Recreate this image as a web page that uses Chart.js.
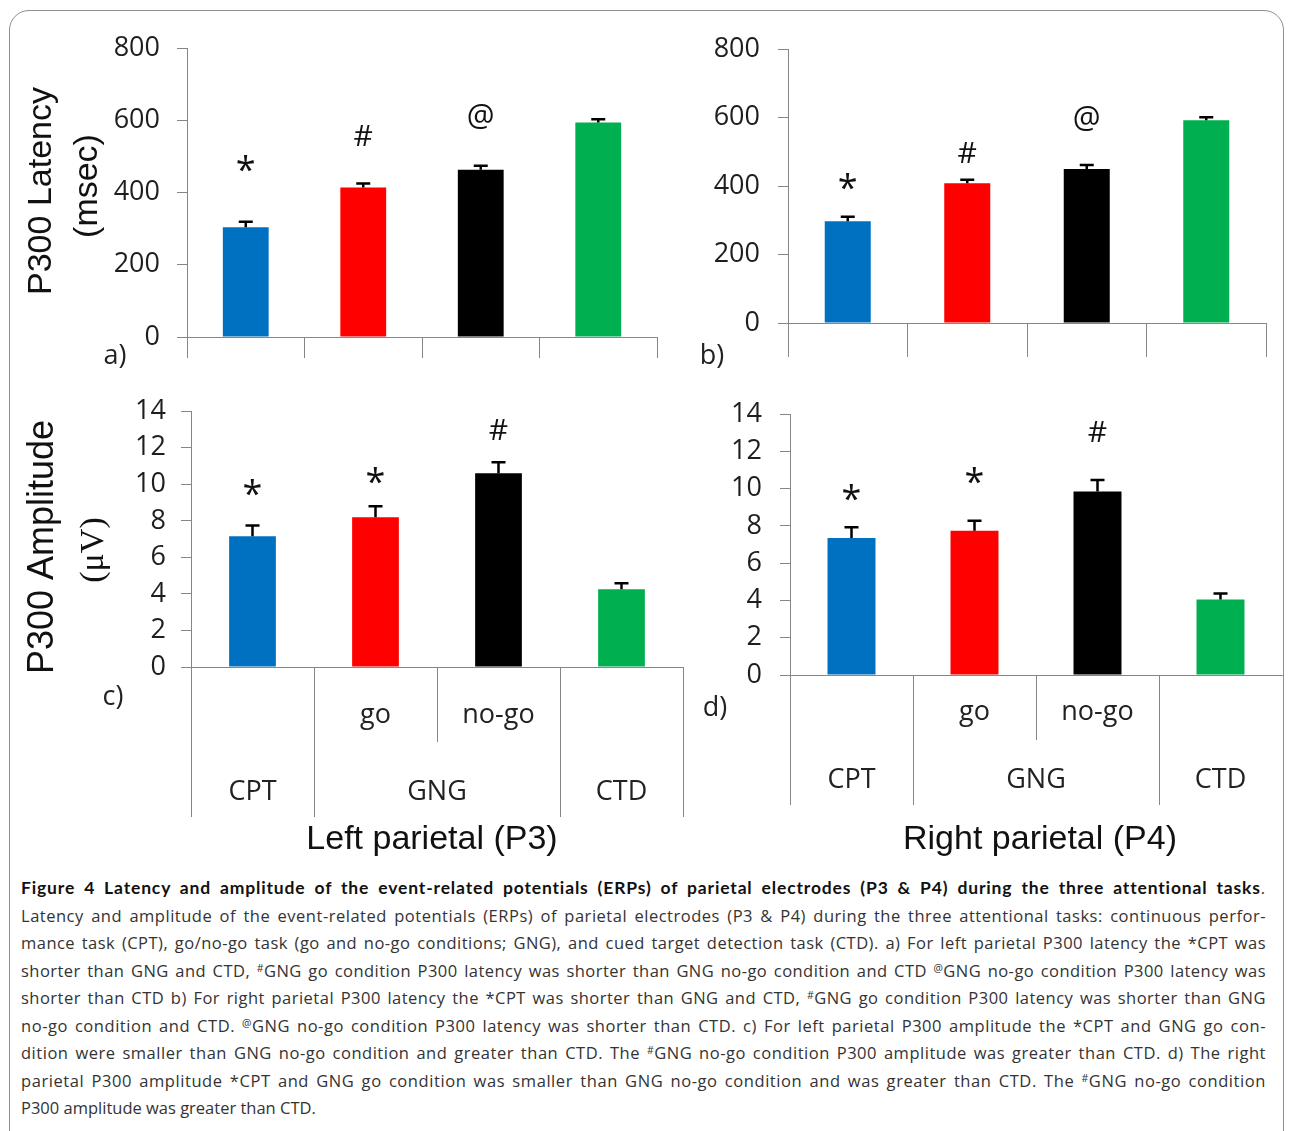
<!DOCTYPE html>
<html>
<head>
<meta charset="utf-8">
<script src="https://cdn.jsdelivr.net/npm/chart.js@4/dist/chart.umd.min.js"></script>
<style>
html,body{margin:0;padding:0;background:#fff;overflow:hidden;width:1292px;height:1131px;}
#frame{position:absolute;left:9px;top:10px;width:1275px;height:1160px;border:1px solid #8f8f8f;border-radius:20px;box-sizing:border-box;}
canvas{position:absolute;}
#caption{position:absolute;left:21px;top:874px;width:1246px;font-family:'Open Sans',sans-serif;font-size:16.5px;line-height:27.5px;color:#333;}
#caption .ln{white-space:nowrap;height:27.5px;}
#caption b{color:#111;font-weight:700;font-family:Lato,'Open Sans',sans-serif;font-size:17.5px;}
#caption .s{font-size:10.5px;vertical-align:5px;line-height:0;}
</style>
</head>
<body>
<div id="frame"></div>
<canvas id="cA" width="660" height="370" style="left:10px;top:10px"></canvas>
<canvas id="cB" width="615" height="370" style="left:670px;top:10px"></canvas>
<canvas id="cC" width="685" height="490" style="left:10px;top:380px"></canvas>
<canvas id="cD" width="597" height="490" style="left:695px;top:380px"></canvas>
<div id="caption">
<div class="ln j"><span><b>Figure 4 Latency and amplitude of the event-related potentials (ERPs) of parietal electrodes (P3 &amp; P4) during the three attentional tasks</b>.</span></div>
<div class="ln j"><span>Latency and amplitude of the event-related potentials (ERPs) of parietal electrodes (P3 &amp; P4) during the three attentional tasks: continuous perfor-</span></div>
<div class="ln j"><span>mance task (CPT), go/no-go task (go and no-go conditions; GNG), and cued target detection task (CTD). a) For left parietal P300 latency the *CPT was</span></div>
<div class="ln j"><span>shorter than GNG and CTD, <span class="s">#</span>GNG go condition P300 latency was shorter than GNG no-go condition and CTD <span class="s">@</span>GNG no-go condition P300 latency was</span></div>
<div class="ln j"><span>shorter than CTD b) For right parietal P300 latency the *CPT was shorter than GNG and CTD, <span class="s">#</span>GNG go condition P300 latency was shorter than GNG</span></div>
<div class="ln j"><span>no-go condition and CTD. <span class="s">@</span>GNG no-go condition P300 latency was shorter than CTD. c) For left parietal P300 amplitude the *CPT and GNG go con-</span></div>
<div class="ln j"><span>dition were smaller than GNG no-go condition and greater than CTD. The <span class="s">#</span>GNG no-go condition P300 amplitude was greater than CTD. d) The right</span></div>
<div class="ln j"><span>parietal P300 amplitude *CPT and GNG go condition was smaller than GNG no-go condition and was greater than CTD. The <span class="s">#</span>GNG no-go condition</span></div>
<div class="ln"><span>P300 amplitude was greater than CTD.</span></div>
</div>
<script>
// ---------- data ----------
const categories = ['CPT', 'GNG go', 'GNG no-go', 'CTD'];
const taskGroups = ['CPT', 'GNG', 'CTD'];
const conditionLabels = ['', 'go', 'no-go', ''];
const barColors = ['#0070C0', '#FF0000', '#000000', '#00B050'];

const latencyTicks = [0, 200, 400, 600, 800];
const amplitudeTicks = [0, 2, 4, 6, 8, 10, 12, 14];

const latencyP3 = [304, 414, 463, 594];
const latencyP3Err = [15, 11, 11, 9];
const latencyP3Marks = ['*', '#', '@', ''];
const latencyP3MarkAt = [481, 558, 606, null];

const latencyP4 = [297, 408, 450, 592];
const latencyP4Err = [13, 10, 11, 9];
const latencyP4Marks = ['*', '#', '@', ''];
const latencyP4MarkAt = [413, 499, 593, null];

const amplitudeP3 = [7.15, 8.2, 10.6, 4.25];
const amplitudeP3Err = [0.6, 0.6, 0.6, 0.33];
const amplitudeP3Marks = ['*', '*', '#', ''];
const amplitudeP3MarkAt = [9.82, 10.47, 13.0, null];

const amplitudeP4 = [7.35, 7.75, 9.85, 4.05];
const amplitudeP4Err = [0.58, 0.53, 0.62, 0.32];
const amplitudeP4Marks = ['*', '*', '#', ''];
const amplitudeP4MarkAt = [9.83, 10.72, 13.1, null];

// ---------- drawing ----------
const AXIS = '#868686';
const TICK_FONT = "27px 'Open Sans'";
const markOffset = {'*': 0.52, '#': 0.36, '@': 0.27};
const markSize = {'*': 36, '#': 30, '@': 31};

const figurePlugin = {
  id: 'figure',
  afterDatasetsDraw(chart, args, o) {
    const ctx = chart.ctx;
    const meta = chart.getDatasetMeta(0);
    const ys = chart.scales.y;
    const vals = chart.data.datasets[0].data;
    ctx.save();
    ctx.strokeStyle = '#000';
    ctx.lineWidth = 2.5;
    meta.data.forEach((bar, i) => {
      const top = ys.getPixelForValue(vals[i] + o.err[i]);
      ctx.beginPath();
      ctx.moveTo(bar.x, bar.y);
      ctx.lineTo(bar.x, top);
      ctx.moveTo(bar.x - 7, top);
      ctx.lineTo(bar.x + 7, top);
      ctx.stroke();
    });
    ctx.fillStyle = '#111';
    ctx.textAlign = 'center';
    ctx.textBaseline = 'alphabetic';
    meta.data.forEach((bar, i) => {
      const m = o.marks[i];
      if (!m) return;
      const size = markSize[m];
      ctx.font = size + "px 'Open Sans'";
      const y = ys.getPixelForValue(o.markAt[i]) + markOffset[m] * size;
      ctx.fillText(m, bar.x, y);
    });
    ctx.restore();
  },
  afterDraw(chart, args, o) {
    const ctx = chart.ctx;
    const xs = chart.scales.x;
    ctx.save();
    ctx.fillStyle = '#111';
    if (o.yTitle) {
      o.yTitle.forEach(t => {
        ctx.save();
        ctx.translate(t.x, t.y);
        ctx.rotate(-Math.PI / 2);
        ctx.font = t.font;
        ctx.textAlign = 'center';
        ctx.textBaseline = 'alphabetic';
        ctx.fillText(t.text, 0, 0);
        ctx.restore();
      });
    }
    ctx.font = TICK_FONT;
    ctx.fillStyle = '#222';
    ctx.textAlign = 'center';
    ctx.textBaseline = 'middle';
    ctx.fillText(o.panel.text, o.panel.x, o.panel.y);
    if (o.hier) {
      const h = o.hier;
      const base = chart.chartArea.bottom;
      const bx = k => Math.round(xs.getPixelForValue(k - 0.5)) + 0.5;
      ctx.strokeStyle = AXIS;
      ctx.lineWidth = 1;
      for (let k = 0; k <= categories.length; k++) {
        if (k === categories.length && h.skipEnd) continue;
        const len = k === 2 ? h.shortTick : h.longTick;
        ctx.beginPath();
        ctx.moveTo(bx(k), base);
        ctx.lineTo(bx(k), base + len);
        ctx.stroke();
      }
      ctx.font = TICK_FONT;
      ctx.fillStyle = '#222';
      ctx.textAlign = 'center';
      ctx.textBaseline = 'alphabetic';
      conditionLabels.forEach((c, i) => {
        if (c) ctx.fillText(c, xs.getPixelForValue(i), base + h.subY);
      });
      const spans = [[0, 0], [1, 2], [3, 3]];
      taskGroups.forEach((g, j) => {
        const x = (xs.getPixelForValue(spans[j][0]) + xs.getPixelForValue(spans[j][1])) / 2;
        ctx.fillText(g, x, base + h.groupY);
      });
    }
    if (o.xTitle) {
      ctx.font = "34px 'Liberation Sans'";
      ctx.fillStyle = '#111';
      ctx.textAlign = 'center';
      ctx.textBaseline = 'alphabetic';
      ctx.fillText(o.xTitle.text, o.xTitle.x, o.xTitle.y);
    }
    ctx.restore();
  }
};

function makeChart(id, values, cfg) {
  const hier = !!cfg.hier;
  return new Chart(document.getElementById(id), {
    type: 'bar',
    data: {
      labels: categories,
      datasets: [{
        data: values,
        backgroundColor: barColors,
        borderWidth: 0,
        categoryPercentage: 1,
        barPercentage: cfg.barPct
      }]
    },
    options: {
      responsive: false,
      animation: false,
      devicePixelRatio: 1,
      layout: {padding: {left: 0, top: cfg.top, right: cfg.right, bottom: cfg.bottom}},
      plugins: {
        legend: {display: false},
        tooltip: {enabled: false},
        figure: {
          err: cfg.err, marks: cfg.marks, markAt: cfg.markAt,
          yTitle: cfg.yTitle, panel: cfg.panel, hier: cfg.hier, xTitle: cfg.xTitle
        }
      },
      scales: {
        x: {
          offset: true,
          ticks: {display: false},
          grid: {display: !hier, offset: true, drawOnChartArea: false, drawTicks: true,
                 tickLength: cfg.xHeight, color: AXIS, lineWidth: 1},
          border: {display: true, color: AXIS, width: 1},
          afterFit: s => { s.height = cfg.xHeight; }
        },
        y: {
          min: 0,
          max: cfg.tickValues[cfg.tickValues.length - 1],
          afterBuildTicks: s => { s.ticks = cfg.tickValues.map(v => ({value: v})); },
          ticks: {font: {family: 'Open Sans', size: 27}, color: '#1e1e1e', padding: cfg.tickPad},
          grid: {drawOnChartArea: false, drawTicks: true, tickLength: 10, color: AXIS, lineWidth: 1},
          border: {display: true, color: AXIS, width: 1},
          afterFit: s => { s.width = cfg.yWidth; }
        }
      }
    },
    plugins: [figurePlugin]
  });
}

makeChart('cA', latencyP3, {
  barPct: 0.39, top: 38, right: 13, bottom: 22, xHeight: 21, yWidth: 177, tickPad: 17,
  tickValues: latencyTicks, err: latencyP3Err, marks: latencyP3Marks, markAt: latencyP3MarkAt,
  yTitle: [
    {text: 'P300 Latency', font: "34px 'Liberation Sans'", x: 41, y: 181},
    {text: '(msec)', font: "34px 'Liberation Sans'", x: 87, y: 176}
  ],
  panel: {text: 'a)', x: 105, y: 346}
});

makeChart('cB', latencyP4, {
  barPct: 0.385, top: 39, right: 19, bottom: 23, xHeight: 34, yWidth: 118, tickPad: 18,
  tickValues: latencyTicks, err: latencyP4Err, marks: latencyP4Marks, markAt: latencyP4MarkAt,
  panel: {text: 'b)', x: 42, y: 346}
});

makeChart('cC', amplitudeP3, {
  barPct: 0.38, top: 29, right: 12, bottom: 193, xHeight: 10, yWidth: 181, tickPad: 15,
  tickValues: amplitudeTicks, err: amplitudeP3Err, marks: amplitudeP3Marks, markAt: amplitudeP3MarkAt,
  yTitle: [
    {text: 'P300 Amplitude', font: "36px 'Liberation Sans'", x: 43, y: 167},
    {text: '(\u03BCV)', font: "34px 'Liberation Serif'", x: 93, y: 170}
  ],
  panel: {text: 'c)', x: 103, y: 317},
  hier: {subY: 56, groupY: 133, longTick: 150, shortTick: 75, skipEnd: false},
  xTitle: {text: 'Left parietal (P3)', x: 422, y: 469}
});

makeChart('cD', amplitudeP4, {
  barPct: 0.39, top: 30, right: 10, bottom: 185, xHeight: 10, yWidth: 95, tickPad: 18,
  tickValues: amplitudeTicks, err: amplitudeP4Err, marks: amplitudeP4Marks, markAt: amplitudeP4MarkAt,
  panel: {text: 'd)', x: 20, y: 328},
  hier: {subY: 45, groupY: 113, longTick: 130, shortTick: 65, skipEnd: true},
  xTitle: {text: 'Right parietal (P4)', x: 345, y: 469}
});

// justify caption lines to the full width (spread evenly over letters and spaces)
const target = 1245;
document.querySelectorAll('#caption .ln.j').forEach(el => {
  const span = el.firstElementChild;
  const w = span.getBoundingClientRect().width;
  const n = span.textContent.length;
  const spaces = (span.textContent.match(/ /g) || []).length;
  const extra = target - w;
  const ls = extra * 0.6 / n;
  span.style.letterSpacing = ls + 'px';
  const w2 = span.getBoundingClientRect().width;
  if (spaces) span.style.wordSpacing = ((target - w2) / spaces) + 'px';
});
</script>
</body>
</html>
